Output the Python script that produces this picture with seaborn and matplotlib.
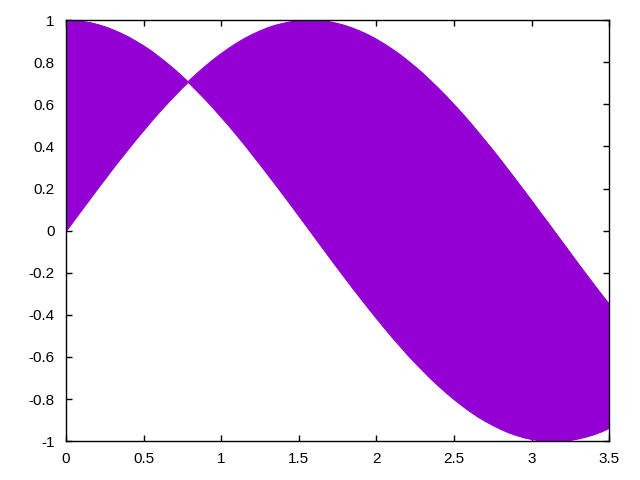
import matplotlib
matplotlib.use("Agg")
import matplotlib.pyplot as plt
import seaborn as sns
import pandas as pd

# values: two curves, region between them filled
x = [0.00, 0.05, 0.10, 0.15, 0.20, 0.25, 0.30, 0.35, 0.40, 0.45,
     0.50, 0.55, 0.60, 0.65, 0.70, 0.75, 0.80, 0.85, 0.90, 0.95,
     1.00, 1.05, 1.10, 1.15, 1.20, 1.25, 1.30, 1.35, 1.40, 1.45,
     1.50, 1.55, 1.60, 1.65, 1.70, 1.75, 1.80, 1.85, 1.90, 1.95,
     2.00, 2.05, 2.10, 2.15, 2.20, 2.25, 2.30, 2.35, 2.40, 2.45,
     2.50, 2.55, 2.60, 2.65, 2.70, 2.75, 2.80, 2.85, 2.90, 2.95,
     3.00, 3.05, 3.10, 3.15, 3.20, 3.25, 3.30, 3.35, 3.40, 3.45,
     3.50]
curve_a = [0.000, 0.050, 0.100, 0.149, 0.199, 0.247, 0.296, 0.343, 0.389, 0.435,
           0.479, 0.523, 0.565, 0.605, 0.644, 0.682, 0.717, 0.751, 0.783, 0.813,
           0.841, 0.867, 0.891, 0.913, 0.932, 0.949, 0.964, 0.976, 0.985, 0.993,
           0.997, 1.000, 1.000, 0.997, 0.992, 0.984, 0.974, 0.961, 0.946, 0.929,
           0.909, 0.887, 0.863, 0.837, 0.808, 0.778, 0.746, 0.711, 0.675, 0.638,
           0.598, 0.558, 0.516, 0.472, 0.427, 0.382, 0.335, 0.287, 0.239, 0.190,
           0.141, 0.091, 0.042, -0.008, -0.058, -0.108, -0.158, -0.207, -0.256, -0.304,
           -0.351]
curve_b = [1.000, 0.999, 0.995, 0.989, 0.980, 0.969, 0.955, 0.939, 0.921, 0.900,
           0.878, 0.853, 0.825, 0.796, 0.765, 0.732, 0.697, 0.660, 0.622, 0.582,
           0.540, 0.498, 0.454, 0.409, 0.362, 0.315, 0.267, 0.219, 0.170, 0.121,
           0.071, 0.021, -0.029, -0.079, -0.129, -0.178, -0.227, -0.276, -0.323, -0.370,
           -0.416, -0.461, -0.505, -0.547, -0.589, -0.628, -0.666, -0.703, -0.737, -0.770,
           -0.801, -0.830, -0.857, -0.882, -0.904, -0.924, -0.942, -0.958, -0.971, -0.982,
           -0.990, -0.996, -0.999, -1.000, -0.998, -0.994, -0.987, -0.978, -0.967, -0.953,
           -0.936]

x_ticks = [0, 0.5, 1, 1.5, 2, 2.5, 3, 3.5]
x_ticklabels = ["0", "0.5", "1", "1.5", "2", "2.5", "3", "3.5"]
y_ticks = [-1, -0.8, -0.6, -0.4, -0.2, 0, 0.2, 0.4, 0.6, 0.8, 1]
y_ticklabels = ["-1", "-0.8", "-0.6", "-0.4", "-0.2", "0", "0.2", "0.4", "0.6", "0.8", "1"]

color = "#9400d3"

df = pd.DataFrame({"x": x, "a": curve_a, "b": curve_b})

sns.set_style("ticks")
plt.rcParams["font.family"] = ["Liberation Sans", "DejaVu Sans"]

fig = plt.figure(figsize=(6.4, 4.8), dpi=100)
ax = fig.add_axes([0.103, 0.081, 0.849, 0.877])

ax.fill_between(df["x"], df["a"], df["b"], color=color, linewidth=0.8, edgecolor=color, interpolate=True)
sns.lineplot(data=df, x="x", y="a", color=color, linewidth=0.8, ax=ax)
sns.lineplot(data=df, x="x", y="b", color=color, linewidth=0.8, ax=ax)

ax.set_xlim(0, 3.5)
ax.set_ylim(-1, 1)
ax.set_xticks(x_ticks)
ax.set_xticklabels(x_ticklabels)
ax.set_yticks(y_ticks)
ax.set_yticklabels(y_ticklabels)
ax.set_xlabel("")
ax.set_ylabel("")
ax.tick_params(direction="in", length=4, width=1, top=True, right=True,
               labelsize=11, colors="black", pad=8)
for s in ax.spines.values():
    s.set_visible(True)
    s.set_linewidth(1)
    s.set_color("black")

fig.savefig("out.png", dpi=100)
